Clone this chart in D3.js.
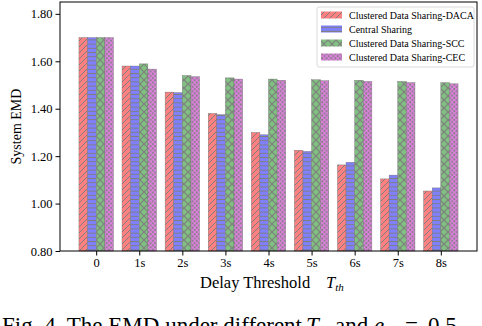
<!DOCTYPE html>
<html><head><meta charset="utf-8">
<script src="https://cdn.jsdelivr.net/npm/d3@7"></script>
<style>body{margin:0;background:#fff;overflow:hidden}svg{display:block}</style>
</head><body><svg id="c" width="482" height="326"></svg>
<script>
const categories = ["0","1s","2s","3s","4s","5s","6s","7s","8s"];
const seriesNames = ["Clustered Data Sharing-DACA","Central Sharing","Clustered Data Sharing-SCC","Clustered Data Sharing-CEC"];
const daca    = [1.70,1.580,1.470,1.380,1.300,1.225,1.163,1.104,1.053];
const central = [1.70,1.580,1.468,1.375,1.290,1.220,1.174,1.120,1.066];
const scc     = [1.70,1.589,1.540,1.530,1.525,1.522,1.520,1.515,1.510];
const cec     = [1.70,1.567,1.535,1.525,1.520,1.518,1.515,1.510,1.505];
const yTicks  = [0.80,1.00,1.20,1.40,1.60,1.80];
const seriesValues = [daca, central, scc, cec];

const svg = d3.select("#c");
const L=60, R=477, T=2, B=251;
const x = d3.scaleLinear().domain([-0.84, 8.84]).range([L, R]);
const y = d3.scaleLinear().domain([0.8, 1.85]).range([B, T]);

const fills = ["#ff8080","#8080ff","#80c080","#df80df"];
const hatch = "#7f7f7f";
const defs = svg.append("defs");
let p = defs.append("pattern").attr("id","p0").attr("patternUnits","userSpaceOnUse").attr("width",6).attr("height",6);
p.append("rect").attr("width",6).attr("height",6).attr("fill",fills[0]);
p.append("path").attr("d","M-1,7 L7,-1 M-4,4 L4,-4 M2,10 L10,2").attr("stroke",hatch).attr("stroke-width",1);
p = defs.append("pattern").attr("id","p1").attr("patternUnits","userSpaceOnUse").attr("width",6).attr("height",4.2);
p.append("rect").attr("width",6).attr("height",4.2).attr("fill",fills[1]);
p.append("path").attr("d","M0,2.1 L6,2.1").attr("stroke",hatch).attr("stroke-width",1);
p = defs.append("pattern").attr("id","p2").attr("patternUnits","userSpaceOnUse").attr("width",8).attr("height",8);
p.append("rect").attr("width",8).attr("height",8).attr("fill",fills[2]);
p.append("path").attr("d","M0,0 L8,8 M8,0 L0,8").attr("stroke",hatch).attr("stroke-width",1.2);
p = defs.append("pattern").attr("id","p3").attr("patternUnits","userSpaceOnUse").attr("width",4.4).attr("height",4.4);
p.append("rect").attr("width",4.4).attr("height",4.4).attr("fill",fills[3]);
p.append("circle").attr("cx",1.1).attr("cy",1.1).attr("r",1).attr("fill",hatch);
p.append("circle").attr("cx",3.3).attr("cy",3.3).attr("r",1).attr("fill",hatch);

const bw = 0.2;
seriesValues.forEach((vals, s) => {
  svg.append("g").selectAll("rect").data(vals).join("rect")
    .attr("x", (d,i) => x(i + (s-2)*bw))
    .attr("width", x(bw) - x(0))
    .attr("y", d => y(d))
    .attr("height", d => y(0.8) - y(d))
    .attr("fill", `url(#p${s})`)
    .attr("stroke", "#707070").attr("stroke-width", 0.4);
});

const ya = d3.axisLeft(y).tickValues(yTicks).tickFormat(d3.format(".2f")).tickSize(4.5).tickPadding(3);
const gy = svg.append("g").attr("transform",`translate(${L},0)`).call(ya);
gy.select(".domain").remove();
const xa = d3.axisBottom(x).tickValues(d3.range(categories.length)).tickFormat(i => categories[i]).tickSize(4.5).tickPadding(3);
const gx = svg.append("g").attr("transform",`translate(0,${B})`).call(xa);
gx.select(".domain").remove();
svg.selectAll(".tick text").style("font-family","serif").style("font-size","12.5px");
svg.append("rect").attr("x",L).attr("y",T).attr("width",R-L).attr("height",B-T)
  .attr("fill","none").attr("stroke","#000").attr("stroke-width",1);

svg.append("text").attr("transform",`translate(21,${(T+B)/2}) rotate(-90)`).attr("text-anchor","middle")
  .style("font-family","serif").style("font-size","14px").text("System EMD");
const xl = svg.append("text").attr("x",200).attr("y",288).style("font-family","serif").style("font-size","16.5px");
xl.append("tspan").text("Delay Threshold");
xl.append("tspan").attr("x",326).style("font-style","italic").text("T");
xl.append("tspan").style("font-style","italic").attr("dy",3).style("font-size","11px").text("th");

const lg = svg.append("g");
lg.append("rect").attr("x",317).attr("y",7).attr("width",157).attr("height",60).attr("rx",2)
  .attr("fill","#fff").attr("fill-opacity",0.8).attr("stroke","#d0d0d0").attr("stroke-width",0.8);
seriesNames.forEach((n,s) => {
  const cy = 15 + s*14;
  lg.append("rect").attr("x",321).attr("y",cy-3.5).attr("width",21).attr("height",7).attr("fill",`url(#p${s})`);
  lg.append("text").attr("x",349).attr("y",cy+3.5).style("font-family","serif").style("font-size","10px").text(n);
});

const cap = svg.append("text").attr("x",2).attr("y",333).style("font-family","serif").style("font-size","23px");
cap.append("tspan").text("Fig. 4. The EMD under different");
cap.append("tspan").attr("x",306).style("font-style","italic").text("T");
cap.append("tspan").style("font-style","italic").attr("dy",4).style("font-size","15px").text("th");
cap.append("tspan").attr("x",335).attr("dy",-4).text("and");
cap.append("tspan").attr("x",374).style("font-style","italic").text("e");
cap.append("tspan").style("font-style","italic").attr("dy",4).style("font-size","15px").text("th");
cap.append("tspan").attr("x",405).attr("dy",-4).text("=");
cap.append("tspan").attr("x",428).text("0.5");
</script></body></html>
